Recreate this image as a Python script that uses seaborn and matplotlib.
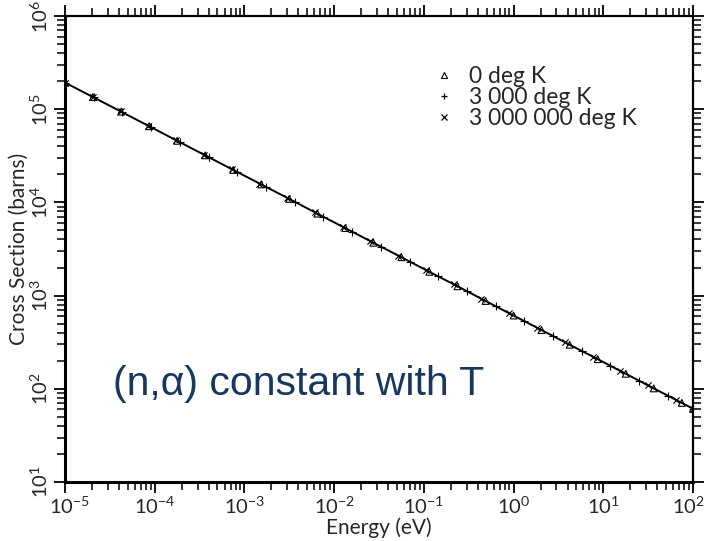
import matplotlib
matplotlib.use("Agg")
import matplotlib.pyplot as plt
from matplotlib.lines import Line2D
from matplotlib.ticker import (LogLocator, FixedLocator, FixedFormatter,
                               NullFormatter)
import matplotlib.transforms as mtransforms
import seaborn as sns
import pandas as pd

# ---- data ----
E_0K = [1.00e-5, 2.05e-5, 4.22e-5, 8.66e-5, 1.78e-4, 3.65e-4, 7.50e-4, 1.54e-3,
        3.16e-3, 6.49e-3, 1.33e-2, 2.74e-2, 5.62e-2, 0.115, 0.237, 0.487, 1.0,
        2.05, 4.22, 8.66, 17.8, 36.5, 75.0, 100.0]
S_0K = [1.93e5, 1.35e5, 9.41e4, 6.57e4, 4.58e4, 3.20e4, 2.23e4, 1.56e4,
        1.09e4, 7.58e3, 5.30e3, 3.69e3, 2.58e3, 1.80e3, 1.26e3, 876, 611,
        427, 297, 208, 145, 101, 70.6, 61.1]

E_3kK = [1.00e-5, 2.09e-5, 4.37e-5, 9.12e-5, 1.91e-4, 3.98e-4, 8.32e-4, 1.74e-3,
         3.63e-3, 7.59e-3, 1.58e-2, 3.31e-2, 6.92e-2, 0.145, 0.302, 0.631, 1.32,
         2.75, 5.75, 12.0, 25.1, 52.5, 100.0]
S_3kK = [1.93e5, 1.34e5, 9.24e4, 6.40e4, 4.42e4, 3.06e4, 2.12e4, 1.47e4,
         1.01e4, 7.01e3, 4.86e3, 3.36e3, 2.32e3, 1.61e3, 1.11e3, 769, 532,
         368, 255, 176, 122, 84.3, 61.1]

E_3MK = [1.00e-5, 2.04e-5, 4.16e-5, 8.48e-5, 1.73e-4, 3.53e-4, 7.19e-4, 1.47e-3,
         2.99e-3, 6.10e-3, 1.24e-2, 2.54e-2, 5.18e-2, 0.106, 0.215, 0.439, 0.895,
         1.83, 3.72, 7.60, 15.5, 31.6, 64.4, 100.0]
S_3MK = [1.93e5, 1.35e5, 9.47e4, 6.63e4, 4.65e4, 3.25e4, 2.28e4, 1.59e4,
         1.12e4, 7.82e3, 5.49e3, 3.83e3, 2.68e3, 1.88e3, 1.32e3, 922, 646,
         452, 317, 222, 155, 109, 76.1, 61.1]

x_ticks = [1e-5, 1e-4, 1e-3, 1e-2, 1e-1, 1e0, 1e1, 1e2]
x_ticklabels = ["$10^{-5}$", "$10^{-4}$", "$10^{-3}$", "$10^{-2}$",
                "$10^{-1}$", "$10^{0}$", "$10^{1}$", "$10^{2}$"]
y_ticks = [1e1, 1e2, 1e3, 1e4, 1e5, 1e6]
y_ticklabels = ["$10^{1}$", "$10^{2}$", "$10^{3}$", "$10^{4}$", "$10^{5}$", "$10^{6}$"]

legend_labels = ["0 deg K", "3 000 deg K", "3 000 000 deg K"]
x_label = "Energy (eV)"
y_label = "Cross Section (barns)"
annotation = "(n,\u03b1) constant with T"

# ---- style ----
sns.set_style("white")
plt.rcParams["font.family"] = ["Lato", "DejaVu Sans"]
plt.rcParams["mathtext.fontset"] = "custom"
plt.rcParams["mathtext.rm"] = "Lato"
plt.rcParams["mathtext.it"] = "Lato:italic"
plt.rcParams["mathtext.bf"] = "Lato:bold"
plt.rcParams["mathtext.default"] = "regular"

fig = plt.figure(figsize=(7.08, 5.41), dpi=100)
ax = fig.add_axes([65 / 708, 1 - 482 / 541, (693 - 65) / 708, (482 - 16) / 541])

df0 = pd.DataFrame({"E": E_0K, "sigma": S_0K})
df1 = pd.DataFrame({"E": E_3kK, "sigma": S_3kK})
df2 = pd.DataFrame({"E": E_3MK, "sigma": S_3MK})

sns.lineplot(data=df0, x="E", y="sigma", ax=ax, color="black", lw=1.4, zorder=2)
sns.scatterplot(data=df0, x="E", y="sigma", ax=ax, marker="^", s=24,
                facecolor="none", edgecolor="black", linewidth=0.8, zorder=3)
sns.scatterplot(data=df1, x="E", y="sigma", ax=ax, marker="+", s=28,
                color="black", linewidth=0.8, zorder=3)
sns.scatterplot(data=df2, x="E", y="sigma", ax=ax, marker="x", s=20,
                color="black", linewidth=0.8, zorder=3)

ax.set_xscale("log")
ax.set_yscale("log")
ax.set_xlim(1e-5, 1e2)
ax.set_ylim(1e1, 1e6)

for name, sp in ax.spines.items():
    sp.set_visible(True)
    sp.set_color("black")
    sp.set_linewidth(2.2 if name in ("left", "bottom") else 1.6)

ax.xaxis.set_major_locator(FixedLocator(x_ticks))
ax.yaxis.set_major_locator(FixedLocator(y_ticks))
ax.xaxis.set_major_formatter(FixedFormatter(x_ticklabels))
ax.yaxis.set_major_formatter(FixedFormatter(y_ticklabels))
ax.xaxis.set_minor_locator(LogLocator(base=10, subs=range(2, 10), numticks=100))
ax.yaxis.set_minor_locator(LogLocator(base=10, subs=range(2, 10), numticks=100))
ax.xaxis.set_minor_formatter(NullFormatter())
ax.yaxis.set_minor_formatter(NullFormatter())

ax.tick_params(which="both", direction="out", top=True, right=True,
               bottom=True, left=True, color="black")
ax.tick_params(which="major", length=8, width=1.3, labelsize=14.5, pad=2)
ax.tick_params(which="minor", length=6, width=1.1)
ax.tick_params(axis="y", which="major", labelrotation=90, pad=2)
for lab in ax.get_yticklabels():
    lab.set_va("center")

# keep the outermost x tick labels inside the figure
fig.canvas.draw()
shift_l = mtransforms.ScaledTranslation(4 / 100, 0, fig.dpi_scale_trans)
shift_r = mtransforms.ScaledTranslation(-5 / 100, 0, fig.dpi_scale_trans)
for lab in ax.get_xticklabels():
    txt = lab.get_text()
    if "{-5}" in txt:
        lab.set_transform(lab.get_transform() + shift_l)
    if "{2}" in txt:
        lab.set_transform(lab.get_transform() + shift_r)

ax.set_xlabel(x_label, fontsize=15, labelpad=0)
ax.set_ylabel(y_label, fontsize=15, labelpad=1)

handles = [
    Line2D([], [], ls="none", marker="^", mfc="none", mec="black", ms=5, mew=0.8),
    Line2D([], [], ls="none", marker="+", color="black", ms=5, mew=0.9),
    Line2D([], [], ls="none", marker="x", color="black", ms=4, mew=0.9),
]
ax.legend(handles, legend_labels, loc="upper left",
          bbox_to_anchor=((433 - 65) / (693 - 65), 1 - (66 - 16) / (482 - 16)),
          frameon=False, fontsize=16.5, handlelength=1.0, handletextpad=0.55,
          labelspacing=0.0, borderaxespad=0, borderpad=0)

fig.text(113 / 708, 1 - 384 / 541, annotation, fontsize=29.5, color="#17375E",
         family=["Liberation Sans", "DejaVu Sans"], va="center", ha="left")

fig.savefig("out.png", dpi=100)
